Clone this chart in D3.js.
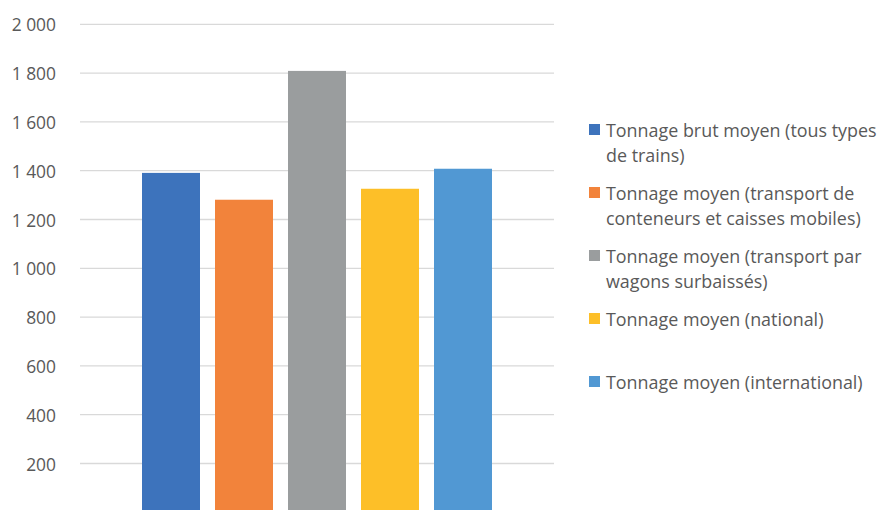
<!DOCTYPE html>
<html>
<head>
<meta charset="utf-8">
<script src="https://cdn.jsdelivr.net/npm/d3@7"></script>
<style>
  body { margin: 0; background: #fff; }
  svg { display: block; font-family: "Open Sans", "Noto Sans", sans-serif; }
</style>
</head>
<body>
<div id="chart"></div>
<script>
const SERIES = [
  "Tonnage brut moyen (tous types de trains)",
  "Tonnage moyen (transport de conteneurs et caisses mobiles)",
  "Tonnage moyen (transport par wagons surbaissés)",
  "Tonnage moyen (national)",
  "Tonnage moyen (international)"
];
// legend wraps as in the original
const LEGEND_LINES = [
  ["Tonnage brut moyen (tous types", "de trains)"],
  ["Tonnage moyen (transport de", "conteneurs et caisses mobiles)"],
  ["Tonnage moyen (transport par", "wagons surbaissés)"],
  ["Tonnage moyen (national)"],
  ["Tonnage moyen (international)"]
];
const VALUES = [1391, 1281, 1809, 1326, 1408];
const COLORS = ["#3d73bc", "#f2833b", "#9a9d9e", "#fdbf28", "#5198d3"];
const TICKS  = [200, 400, 600, 800, 1000, 1200, 1400, 1600, 1800, 2000];

const W = 877, H = 510;
const PLOT = { left: 80, right: 554, top: 24.3, zero: 512.3 };

const svg = d3.select("#chart").append("svg")
  .attr("width", W)
  .attr("height", H);

const y = d3.scaleLinear().domain([0, 2000]).range([PLOT.zero, PLOT.top]);

// single category, five series clustered in the middle
const x = d3.scaleBand()
  .domain(SERIES)
  .range([142, 492])
  .paddingInner(0.2055)
  .paddingOuter(0);

const fr = d3.formatLocale({ decimal: ",", thousands: " ", grouping: [3], currency: ["", " €"] });
const fmt = fr.format(",d");

// gridlines
svg.append("g")
  .selectAll("line")
  .data(TICKS)
  .join("line")
  .attr("x1", PLOT.left)
  .attr("x2", PLOT.right)
  .attr("y1", d => y(d))
  .attr("y2", d => y(d))
  .attr("stroke", "#d9d9d9")
  .attr("stroke-width", 1.3);

// y labels
svg.append("g")
  .selectAll("text")
  .data(TICKS)
  .join("text")
  .attr("x", 56)
  .attr("y", d => y(d))
  .attr("text-anchor", "end")
  .attr("dominant-baseline", "central")
  .style("font-size", "17.4px")
  .style("fill", "#595959")
  .text(d => fmt(d));

// bars
svg.append("g")
  .selectAll("rect")
  .data(VALUES)
  .join("rect")
  .attr("x", (d, i) => x(SERIES[i]))
  .attr("width", x.bandwidth())
  .attr("y", d => y(d))
  .attr("height", d => y(0) - y(d))
  .attr("fill", (d, i) => COLORS[i]);

// legend
const legend = svg.append("g").attr("transform", "translate(589,130)");
LEGEND_LINES.forEach((lines, i) => {
  const g = legend.append("g").attr("transform", `translate(0,${i * 63})`);
  g.append("rect")
    .attr("x", 0).attr("y", -6)
    .attr("width", 11).attr("height", 11)
    .attr("fill", COLORS[i]);
  lines.forEach((t, li) => {
    g.append("text")
      .attr("x", 17)
      .attr("y", li * 25)
      .attr("dominant-baseline", "central")
      .style("font-size", "17.9px")
      .style("fill", "#595959")
      .text(t);
  });
});
</script>
</body>
</html>
